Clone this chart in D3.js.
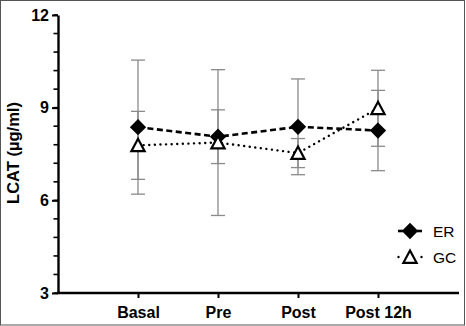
<!DOCTYPE html>
<html><head><meta charset="utf-8">
<script src="https://cdn.jsdelivr.net/npm/d3@7"></script>
<style>body{margin:0;background:#fff}svg{display:block;font-family:"Liberation Sans",Arial,sans-serif}</style>
</head><body><svg id="c" width="466" height="326"></svg>
<script>
const categories = ["Basal","Pre","Post","Post 12h"];
const erMean = [8.37, 8.06, 8.38, 8.26];
const erSD   = [2.17, 0.87, 1.55, 1.30];
const gcMean = [7.78, 7.87, 7.53, 8.98];
const gcSD   = [1.10, 2.36, 0.47, 1.23];
const yTicks = [3, 6, 9, 12];
const yMinor = d3.range(3, 12.001, 0.6);
const seriesNames = ["ER","GC"];

const svg = d3.select("#c");
svg.append("rect").attr("x",0.5).attr("y",0.5).attr("width",464).attr("height",324.5)
  .attr("fill","#fff").attr("stroke","#555").attr("stroke-width",1);

const x = d3.scalePoint().domain(categories).range([58,458]).padding(1);
const y = d3.scaleLinear().domain([3,12]).range([293,15]);

// symbol shapes
const diamond = {draw(ctx){const r=6.6;ctx.moveTo(0,-r);ctx.lineTo(r,0);ctx.lineTo(0,r);ctx.lineTo(-r,0);ctx.closePath();}};
const triangle = {draw(ctx){ctx.moveTo(0,-6.5);ctx.lineTo(6.6,5.8);ctx.lineTo(-6.6,5.8);ctx.closePath();}};

// minor y ticks
svg.append("g").selectAll("line").data(yMinor).join("line")
  .attr("x1",53.5).attr("x2",58).attr("y1",d=>y(d)).attr("y2",d=>y(d))
  .attr("stroke","#000").attr("stroke-width",1.6);

const yAx = svg.append("g").attr("transform","translate(58,0)")
  .call(d3.axisLeft(y).tickValues(yTicks).tickSize(6).tickPadding(3).tickSizeOuter(0));
yAx.attr("font-size",null).attr("font-family",null);
yAx.select(".domain").attr("stroke-width",2.4);
yAx.selectAll(".tick line").attr("stroke-width",2);
yAx.selectAll("text").style("font-size","16px").style("font-weight","bold").attr("fill","#000");

const xAx = svg.append("g").attr("transform","translate(0,293)")
  .call(d3.axisBottom(x).tickSize(5).tickPadding(9).tickSizeOuter(0));
xAx.attr("font-size",null).attr("font-family",null);
xAx.select(".domain").attr("stroke-width",2.4).attr("d","M57,0H459");
xAx.selectAll(".tick line").attr("stroke-width",2);
xAx.selectAll("text").style("font-size","16px").style("font-weight","bold").attr("fill","#000");

svg.append("text").attr("transform","translate(18.5,153) rotate(-90)")
  .attr("text-anchor","middle").style("font-size","16.5px").style("font-weight","bold")
  .text("LCAT  (µg/ml)");

const series = [
  {name:"ER", mean:erMean, sd:erSD, dash:"6,3.5", width:2.6, sym:diamond, fill:"#000", cap:"butt"},
  {name:"GC", mean:gcMean, sd:gcSD, dash:"0.1,5.5", width:2.4, sym:triangle, fill:"#fff", cap:"round"}
];

// error bars
series.forEach(s=>{
  const g = svg.append("g").attr("stroke","#8a8a8a").attr("stroke-width",1.3);
  categories.forEach((c,i)=>{
    const cx = x(c), hi = y(s.mean[i]+s.sd[i]), lo = y(s.mean[i]-s.sd[i]);
    g.append("line").attr("x1",cx).attr("x2",cx).attr("y1",hi).attr("y2",lo);
    g.append("line").attr("x1",cx-7).attr("x2",cx+7).attr("y1",hi).attr("y2",hi);
    g.append("line").attr("x1",cx-7).attr("x2",cx+7).attr("y1",lo).attr("y2",lo);
  });
});

const line = d3.line().x((d,i)=>x(categories[i])).y(d=>y(d));
series.forEach(s=>{
  svg.append("path").attr("d",line(s.mean)).attr("fill","none").attr("stroke","#000")
    .attr("stroke-width",s.width).attr("stroke-dasharray",s.dash)
    .attr("stroke-linecap",s.cap);
});
series.forEach(s=>{
  svg.append("g").selectAll("path").data(s.mean).join("path")
    .attr("transform",(d,i)=>`translate(${x(categories[i])},${y(d)})`)
    .attr("d",d3.symbol().type(s.sym))
    .attr("fill",s.fill).attr("stroke","#000").attr("stroke-width",2.2).attr("stroke-linejoin","miter");
});

// legend
const lg = svg.append("g");
series.forEach((s,i)=>{
  const ly = 231 + i*26;
  const segs = s.name==="ER" ? [[398,403],[417,422]] : [[398.5,398.5],[421.5,421.5]];
  segs.forEach(([a,b])=>lg.append("line").attr("x1",a).attr("x2",b).attr("y1",ly).attr("y2",ly)
    .attr("stroke","#000").attr("stroke-width",s.width).attr("stroke-linecap",s.cap));
  lg.append("path").attr("transform",`translate(410,${ly})`)
    .attr("d",d3.symbol().type(s.sym)).attr("fill",s.fill)
    .attr("stroke","#000").attr("stroke-width",2.2);
  lg.append("text").attr("x",433).attr("y",ly+5.5).style("font-size","15.5px").text(s.name);
});
</script></body></html>
